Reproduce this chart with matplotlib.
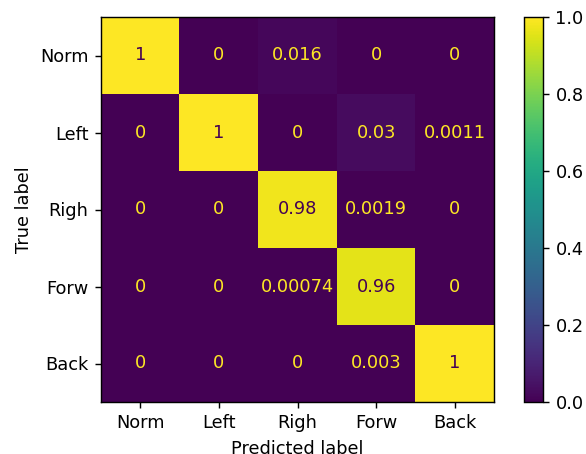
import numpy as np
import matplotlib
matplotlib.use("Agg")
import matplotlib.pyplot as plt

labels = ["Norm", "Left", "Righ", "Forw", "Back"]
row_norm = [1.0, 0.0, 0.016, 0.0, 0.0]
row_left = [0.0, 1.0, 0.0, 0.03, 0.0011]
row_righ = [0.0, 0.0, 0.98, 0.0019, 0.0]
row_forw = [0.0, 0.0, 0.00074, 0.96, 0.0]
row_back = [0.0, 0.0, 0.0, 0.003, 1.0]

cm = np.array([row_norm, row_left, row_righ, row_forw, row_back])

W, H = 586, 454
DPI = 128
fig = plt.figure(figsize=(W / DPI, H / DPI), dpi=DPI)
ax = fig.add_axes([101 / W, 1 - 402 / H, 393 / W, 385 / H])
cax = fig.add_axes([524 / W, 1 - 402 / H, 19 / W, 385 / H])

cmap = plt.get_cmap("viridis")
im = ax.imshow(cm, cmap=cmap, vmin=0, vmax=1, aspect="auto", interpolation="nearest")

thresh = (cm.max() + cm.min()) / 2.0
for i in range(cm.shape[0]):
    for j in range(cm.shape[1]):
        color = cmap(0.0) if cm[i, j] >= thresh else cmap(1.0)
        ax.text(j, i, format(cm[i, j], ".2g"), ha="center", va="center",
                color=color, fontsize=10)

ax.set_xticks(range(len(labels)))
ax.set_xticklabels(labels)
ax.set_yticks(range(len(labels)))
ax.set_yticklabels(labels)
ax.set_xlabel("Predicted label")
ax.set_ylabel("True label")

cb = fig.colorbar(im, cax=cax)
cb.set_ticks([0.0, 0.2, 0.4, 0.6, 0.8, 1.0])

fig.savefig("out.png", dpi=DPI)
